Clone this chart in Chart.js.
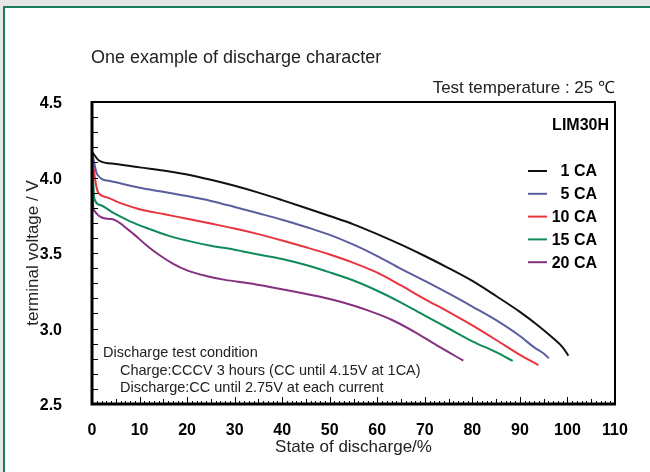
<!DOCTYPE html>
<html>
<head>
<meta charset="utf-8">
<script src="https://cdn.jsdelivr.net/npm/chart.js@4.4.1/dist/chart.umd.min.js"></script>
<style>
  html, body { margin: 0; padding: 0; background: #e6e6e4; }
  #frame {
    position: absolute; left: 3px; top: 6px; width: 660px; height: 480px;
    background: #fff; border-left: 2px solid #1d7a5a; border-top: 2px solid #1d7a5a;
  }
  #chart { position: absolute; left: 0; top: 0; }
</style>
</head>
<body>
<div id="frame"></div>
<canvas id="chart" width="650" height="472"></canvas>
<script>
// ===== Discharge curves (state of discharge % / terminal voltage V) =====
const labels = ['1 CA', '5 CA', '10 CA', '15 CA', '20 CA'];

const soc1CA  = [0, 1.6, 5, 10, 15, 20, 25, 30, 35, 40, 45, 50, 55, 60, 65, 70, 75, 80, 85, 90, 94, 97, 99, 100.2];
const volt1CA = [4.17, 4.11, 4.09, 4.067, 4.047, 4.02, 3.985, 3.945, 3.9, 3.85, 3.798, 3.745, 3.69, 3.625, 3.555, 3.48, 3.4, 3.315, 3.215, 3.11, 3.015, 2.935, 2.875, 2.82];

const soc5CA  = [0, 1.1, 4, 10, 15, 20, 25, 30, 35, 40, 45, 50, 55, 60, 65, 70, 75, 80, 85, 90, 93, 95, 96.1];
const volt5CA = [4.17, 4.02, 3.975, 3.932, 3.905, 3.877, 3.845, 3.805, 3.763, 3.72, 3.672, 3.62, 3.555, 3.48, 3.395, 3.315, 3.232, 3.145, 3.055, 2.95, 2.875, 2.834, 2.803];

const soc10CA  = [0, 0.6, 1.3, 3, 6, 10, 15, 20, 25, 30, 35, 40, 45, 50, 55, 60, 65, 70, 75, 80, 85, 90, 93.9];
const volt10CA = [4.17, 4.0, 3.9, 3.87, 3.83, 3.79, 3.758, 3.727, 3.695, 3.662, 3.625, 3.583, 3.538, 3.49, 3.435, 3.37, 3.285, 3.195, 3.11, 3.02, 2.924, 2.825, 2.758];

const soc15CA  = [0, 0.5, 1.7, 4.5, 8, 12, 16, 20, 25, 30, 35, 40, 45, 50, 55, 60, 65, 70, 75, 80, 85, 88.5];
const volt15CA = [4.17, 3.86, 3.818, 3.765, 3.71, 3.66, 3.615, 3.582, 3.548, 3.522, 3.49, 3.46, 3.42, 3.372, 3.318, 3.25, 3.172, 3.085, 3.0, 2.915, 2.843, 2.785];

const soc20CA  = [0, 0.3, 4, 8, 11.5, 14, 17, 20, 24, 28, 33, 38, 43, 48, 53, 58, 63, 68, 73, 78.1];
const volt20CA = [4.17, 3.79, 3.725, 3.645, 3.55, 3.49, 3.43, 3.385, 3.348, 3.322, 3.3, 3.272, 3.242, 3.21, 3.17, 3.12, 3.058, 2.975, 2.88, 2.787];

const seriesColors = ['#111111', '#5a5e9f', '#e8353d', '#0f8a58', '#84307f'];

// ===== Axis ranges and tick steps =====
const xMin = 0, xMax = 110, xStep = 10;
const yMin = 2.5, yMax = 4.5, yStep = 0.5;

const soc = [soc1CA, soc5CA, soc10CA, soc15CA, soc20CA];
const volt = [volt1CA, volt5CA, volt10CA, volt15CA, volt20CA];

const datasets = labels.map((label, i) => ({
    label: label,
    data: soc[i].map((x, j) => ({ x: x, y: volt[i][j] })),
    borderColor: seriesColors[i],
    backgroundColor: seriesColors[i],
    borderWidth: 2,
    pointRadius: 0,
    cubicInterpolationMode: 'monotone',
    fill: false
}));

const FONT = '"Liberation Sans", Arial, sans-serif';

// ===== Frame, inner ticks, legend and notes =====
const decorations = {
    id: 'decorations',
    afterDraw(chart) {
        const { ctx, chartArea: a, scales: { x, y } } = chart;
        ctx.save();

        // inner tick marks
        ctx.strokeStyle = '#000';
        ctx.lineWidth = 1;
        ctx.beginPath();
        for (let v = Math.round(yMin * 10); v <= Math.round(yMax * 10); v++) {
            const py = Math.round(y.getPixelForValue(v / 10)) + 0.5;
            ctx.moveTo(a.left, py);
            ctx.lineTo(a.left + 6, py);
        }
        for (let v = xMin; v <= xMax; v++) {
            const px = Math.round(x.getPixelForValue(v)) + 0.5;
            const len = v % 10 === 0 ? 7 : (v % 5 === 0 ? 5 : 3);
            ctx.moveTo(px, a.bottom);
            ctx.lineTo(px, a.bottom - len);
        }
        ctx.stroke();

        // box
        ctx.lineWidth = 2;
        ctx.strokeRect(a.left, a.top, a.right - a.left, a.bottom - a.top);
        ctx.lineWidth = 3;
        ctx.beginPath();
        ctx.moveTo(a.left, a.top - 1);
        ctx.lineTo(a.left, a.bottom);
        ctx.lineTo(a.right + 1, a.bottom);
        ctx.stroke();

        // texts
        ctx.fillStyle = '#222';
        ctx.textBaseline = 'alphabetic';
        ctx.font = '18px ' + FONT;
        ctx.textAlign = 'left';
        ctx.fillText('One example of discharge character', 91, 63);
        ctx.font = '17px ' + FONT;
        ctx.textAlign = 'right';
        ctx.fillText('Test temperature : 25 ℃', 615, 93);

        ctx.fillStyle = '#000';
        ctx.font = 'bold 16px ' + FONT;
        ctx.fillText('LIM30H', 609, 130);

        // legend
        chart.data.datasets.forEach((ds, i) => {
            const cy = 171 + i * 22.8;
            ctx.strokeStyle = ds.borderColor;
            ctx.lineWidth = 2;
            ctx.beginPath();
            ctx.moveTo(528, cy);
            ctx.lineTo(547, cy);
            ctx.stroke();
            ctx.fillStyle = '#000';
            ctx.textAlign = 'right';
            ctx.textBaseline = 'middle';
            ctx.fillText(ds.label, 597, cy + 1);
        });

        // test condition notes
        ctx.fillStyle = '#222';
        ctx.font = '14.5px ' + FONT;
        ctx.textAlign = 'left';
        ctx.textBaseline = 'alphabetic';
        ctx.fillText('Discharge test condition', 103, 357);
        ctx.fillText('Charge:CCCV 3 hours (CC until 4.15V at 1CA)', 120, 374.5);
        ctx.fillText('Discharge:CC until 2.75V at each current', 120, 392);

        ctx.restore();
    }
};

new Chart(document.getElementById('chart'), {
    type: 'line',
    data: { datasets: datasets },
    plugins: [decorations],
    options: {
        responsive: false,
        animation: false,
        layout: { padding: { top: 102, right: 35, left: 0, bottom: 0 } },
        plugins: { legend: { display: false }, tooltip: { enabled: false } },
        scales: {
            x: {
                type: 'linear',
                min: xMin, max: xMax,
                grid: { display: false, drawTicks: false },
                border: { display: false },
                ticks: {
                    stepSize: xStep,
                    padding: 17,
                    color: '#000',
                    font: { family: FONT, size: 16, weight: 'bold' },
                    maxRotation: 0
                },
                title: {
                    display: true,
                    text: 'State of discharge/%',
                    color: '#222',
                    font: { family: FONT, size: 17 },
                    padding: { top: 0, bottom: 14 }
                },
                afterFit(scale) { scale.height = 68; }
            },
            y: {
                type: 'linear',
                min: yMin, max: yMax,
                grid: { display: false, drawTicks: false },
                border: { display: false },
                ticks: {
                    stepSize: yStep,
                    padding: 30,
                    labelOffset: 2,
                    color: '#000',
                    font: { family: FONT, size: 16, weight: 'bold' },
                    callback: v => v.toFixed(1)
                },
                title: {
                    display: true,
                    text: 'terminal voltage / V',
                    color: '#222',
                    font: { family: FONT, size: 17 },
                    padding: { top: 23, bottom: 0 }
                },
                afterFit(scale) { scale.width = 92; }
            }
        }
    }
});
</script>
</body>
</html>
